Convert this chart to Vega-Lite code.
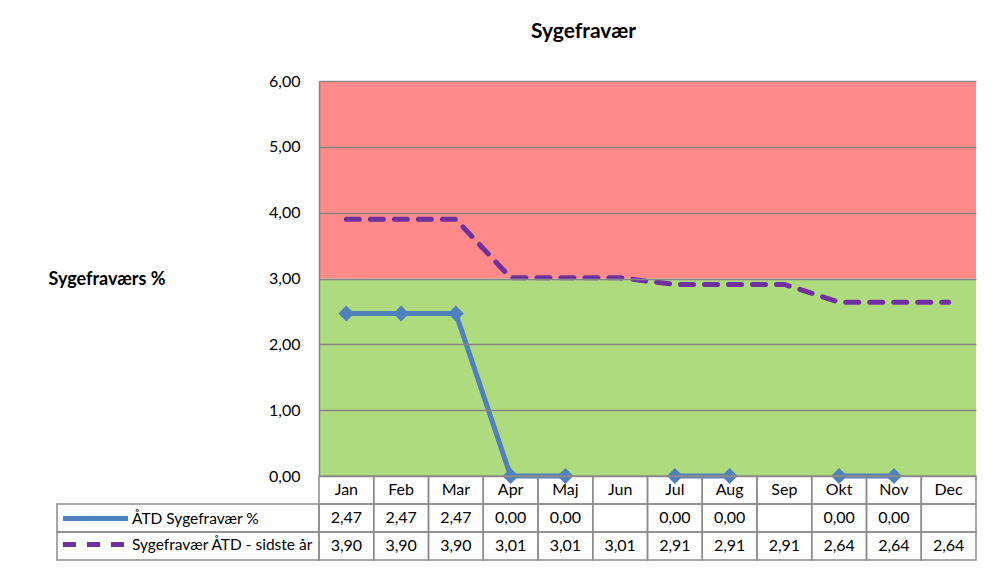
{
  "$schema": "https://vega.github.io/schema/vega-lite/v6.json",
  "background": "white",
  "padding": {"left": 48, "top": 21, "right": 0, "bottom": 0},
  "datasets": {
    "main": [
      {"month": "Jan", "series": "ÅTD Sygefravær %", "value": 2.47},
      {"month": "Feb", "series": "ÅTD Sygefravær %", "value": 2.47},
      {"month": "Mar", "series": "ÅTD Sygefravær %", "value": 2.47},
      {"month": "Apr", "series": "ÅTD Sygefravær %", "value": 0},
      {"month": "Maj", "series": "ÅTD Sygefravær %", "value": 0},
      {"month": "Jun", "series": "ÅTD Sygefravær %", "value": null},
      {"month": "Jul", "series": "ÅTD Sygefravær %", "value": 0},
      {"month": "Aug", "series": "ÅTD Sygefravær %", "value": 0},
      {"month": "Sep", "series": "ÅTD Sygefravær %", "value": null},
      {"month": "Okt", "series": "ÅTD Sygefravær %", "value": 0},
      {"month": "Nov", "series": "ÅTD Sygefravær %", "value": 0},
      {"month": "Dec", "series": "ÅTD Sygefravær %", "value": null},
      {"month": "Jan", "series": "Sygefravær ÅTD - sidste år", "value": 3.90},
      {"month": "Feb", "series": "Sygefravær ÅTD - sidste år", "value": 3.90},
      {"month": "Mar", "series": "Sygefravær ÅTD - sidste år", "value": 3.90},
      {"month": "Apr", "series": "Sygefravær ÅTD - sidste år", "value": 3.01},
      {"month": "Maj", "series": "Sygefravær ÅTD - sidste år", "value": 3.01},
      {"month": "Jun", "series": "Sygefravær ÅTD - sidste år", "value": 3.01},
      {"month": "Jul", "series": "Sygefravær ÅTD - sidste år", "value": 2.91},
      {"month": "Aug", "series": "Sygefravær ÅTD - sidste år", "value": 2.91},
      {"month": "Sep", "series": "Sygefravær ÅTD - sidste år", "value": 2.91},
      {"month": "Okt", "series": "Sygefravær ÅTD - sidste år", "value": 2.64},
      {"month": "Nov", "series": "Sygefravær ÅTD - sidste år", "value": 2.64},
      {"month": "Dec", "series": "Sygefravær ÅTD - sidste år", "value": 2.64}
    ],
    "zones": [
      {"zone": "ok", "lo": 0, "hi": 3},
      {"zone": "high", "lo": 3, "hi": 6}
    ]
  },
  "columns": 2,
  "spacing": 0,
  "bounds": "flush",
  "align": "each",
  "concat": [
    {
      "width": 262,
      "height": 395,
      "data": {"values": []},
      "mark": "rect",
      "encoding": {}
    },
    {
      "width": 657,
      "height": 395,
      "title": {"text": "Sygefravær", "font": "Lato", "fontSize": 21, "fontWeight": "bold", "color": "#000", "anchor": "middle", "dx": -64, "frame": "group", "offset": 31},
      "layer": [
        {
          "data": {"name": "zones"},
          "mark": {"type": "rect"},
          "encoding": {
            "y": {"field": "lo", "type": "quantitative", "scale": {"domain": [0, 6], "nice": false},
              "axis": {"values": [0, 1, 2, 3, 4, 5, 6], "format": ".2f", "title": "Sygefraværs %", "titleAngle": 0, "titleAlign": "left", "titleBaseline": "middle", "titleX": -271, "titleY": 198, "titleFont": "Lato", "titleFontSize": 18, "titleFontWeight": "bold", "titleColor": "#000", "labelFont": "Lato", "labelFontSize": 16, "labelColor": "#000", "labelPadding": 19, "ticks": false, "domain": true, "domainColor": "#868686", "domainWidth": 1.5, "grid": true, "gridColor": "#868686", "gridWidth": 1.5, "zindex": 1}},
            "y2": {"field": "hi"},
            "fill": {"field": "zone", "type": "nominal", "scale": {"domain": ["ok", "high"], "range": ["#AEDB7E", "#FF8A8A"]}, "legend": null}
          }
        },
        {
          "data": {"name": "main"},
          "mark": {"type": "line", "strokeWidth": 5, "strokeCap": "round", "invalid": "break-paths-filter-domains"},
          "encoding": {
            "x": {"field": "month", "type": "nominal", "sort": null, "axis": null},
            "y": {"field": "value", "type": "quantitative"},
            "stroke": {"field": "series", "type": "nominal",
              "scale": {"domain": ["ÅTD Sygefravær %", "Sygefravær ÅTD - sidste år"], "range": ["#4F81BD", "#7030A0"]},
              "legend": {"orient": "none", "legendX": 26, "legendY": 425, "title": null, "symbolType": "M-3.25,0H3.25", "symbolSize": 400, "symbolStrokeWidth": 5, "labelFont": "Lato", "labelFontSize": 15.5, "labelColor": "#000", "labelOffset": 24, "rowPadding": 3, "padding": 0, "labelLimit": 300}},
            "strokeDash": {"field": "series", "type": "nominal",
              "scale": {"domain": ["ÅTD Sygefravær %", "Sygefravær ÅTD - sidste år"], "range": [[1, 0], [13, 11]]}}
          }
        },
        {
          "data": {"name": "main"},
          "transform": [{"filter": "datum.series === 'ÅTD Sygefravær %' && isValid(datum.value)"}],
          "mark": {"type": "point", "shape": "diamond", "filled": true, "size": 256, "color": "#4F81BD", "opacity": 1},
          "encoding": {
            "x": {"field": "month", "type": "nominal", "sort": null, "axis": null},
            "y": {"field": "value", "type": "quantitative"}
          }
        }
      ]
    },
    {
      "width": 262,
      "height": 84,
      "data": {"name": "main"},
      "transform": [{"filter": "datum.month === 'Jan'"}],
      "mark": {"type": "rect", "fill": "transparent", "stroke": "#8C8C8C", "strokeWidth": 1.5},
      "encoding": {
        "y": {"field": "series", "type": "nominal", "axis": null, "scale": {"domain": ["hdr", "ÅTD Sygefravær %", "Sygefravær ÅTD - sidste år"], "paddingInner": 0, "paddingOuter": 0}}
      }
    },
    {
      "width": 657,
      "height": 84,
      "data": {"name": "main"},
      "encoding": {
        "x": {"field": "month", "type": "nominal", "sort": null, "axis": null, "scale": {"paddingInner": 0, "paddingOuter": 0}}
      },
      "layer": [
        {
          "transform": [{"filter": "datum.series === 'ÅTD Sygefravær %'"}],
          "mark": {"type": "rect", "fill": "transparent", "stroke": "#8C8C8C", "strokeWidth": 1.5},
          "encoding": {
            "y": {"datum": "hdr", "type": "nominal", "axis": null, "scale": {"domain": ["hdr", "ÅTD Sygefravær %", "Sygefravær ÅTD - sidste år"], "paddingInner": 0, "paddingOuter": 0}}
          }
        },
        {
          "mark": {"type": "rect", "fill": "transparent", "stroke": "#8C8C8C", "strokeWidth": 1.5},
          "encoding": {
            "y": {"field": "series", "type": "nominal", "axis": null}
          }
        },
        {
          "transform": [{"filter": "datum.series === 'ÅTD Sygefravær %'"}],
          "mark": {"type": "text", "font": "Lato", "fontSize": 16, "color": "#000", "baseline": "middle"},
          "encoding": {
            "y": {"datum": "hdr", "type": "nominal"},
            "text": {"field": "month"}
          }
        },
        {
          "transform": [{"filter": "isValid(datum.value)"}],
          "mark": {"type": "text", "font": "Lato", "fontSize": 16, "color": "#000", "baseline": "middle"},
          "encoding": {
            "y": {"field": "series", "type": "nominal"},
            "text": {"field": "value", "type": "quantitative", "format": ".2f"}
          }
        }
      ]
    }
  ],
  "config": {
    "font": "Lato",
    "view": {"stroke": null},
    "locale": {"number": {"decimal": ",", "thousands": ".", "grouping": [3], "currency": ["", " kr."]}}
  }
}
